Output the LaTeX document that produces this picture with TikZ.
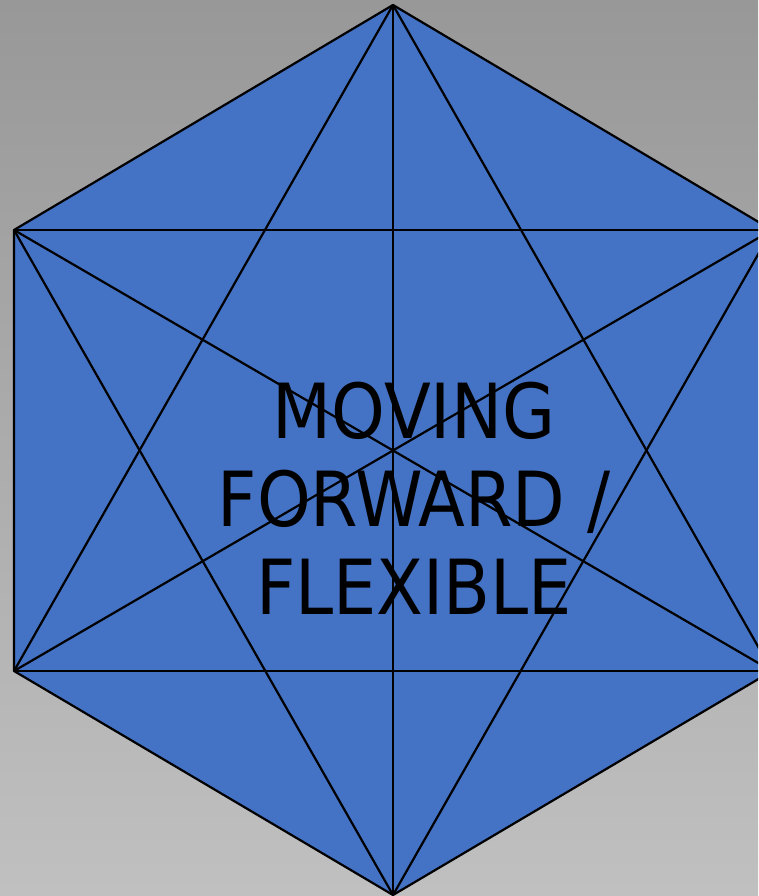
\documentclass[tikz,border=0pt]{standalone}
\usepackage{fontspec}
\newfontfamily\labelfont{DejaVu Sans Condensed}
\begin{document}
\begin{tikzpicture}[x=1pt,y=1pt,
  edge/.style={draw=black, line width=2.2pt},
  hexfill/.style={fill={rgb,255:red,68;green,114;blue,196}}]
\useasboundingbox (0,0) rectangle (758,896);
\clip (0,0) rectangle (758,896);
\shade[top color={rgb,255:red,152;green,152;blue,152}, bottom color={rgb,255:red,192;green,192;blue,192}] (0,0) rectangle (758,896);
\coordinate (T) at (393,891);
\coordinate (UL) at (14,666);
\coordinate (LL) at (14,225);
\coordinate (B) at (393,1);
\coordinate (LR) at (772,225);
\coordinate (UR) at (772,666);
\fill[hexfill] (T) -- (UL) -- (LL) -- (B) -- (LR) -- (UR) -- cycle;
% hexagon edges
\draw[edge, line join=round] (T) -- (UL) -- (LL) -- (B) -- (LR) -- (UR) -- cycle;
% short diagonals
\draw[edge] (T) -- (LL);
\draw[edge] (T) -- (LR);
\draw[edge] (UL) -- (UR);
\draw[edge] (LL) -- (LR);
\draw[edge] (B) -- (UL);
\draw[edge] (B) -- (UR);
% long diagonals
\draw[edge] (T) -- (B);
\draw[edge] (UL) -- (LR);
\draw[edge] (UR) -- (LL);
\node[inner sep=0pt, align=center, anchor=center,
  font=\labelfont\fontsize{76}{88}\selectfont] (label) at (414,398)
  {MOVING\\FORWARD /\\FLEXIBLE};
\end{tikzpicture}
\end{document}
